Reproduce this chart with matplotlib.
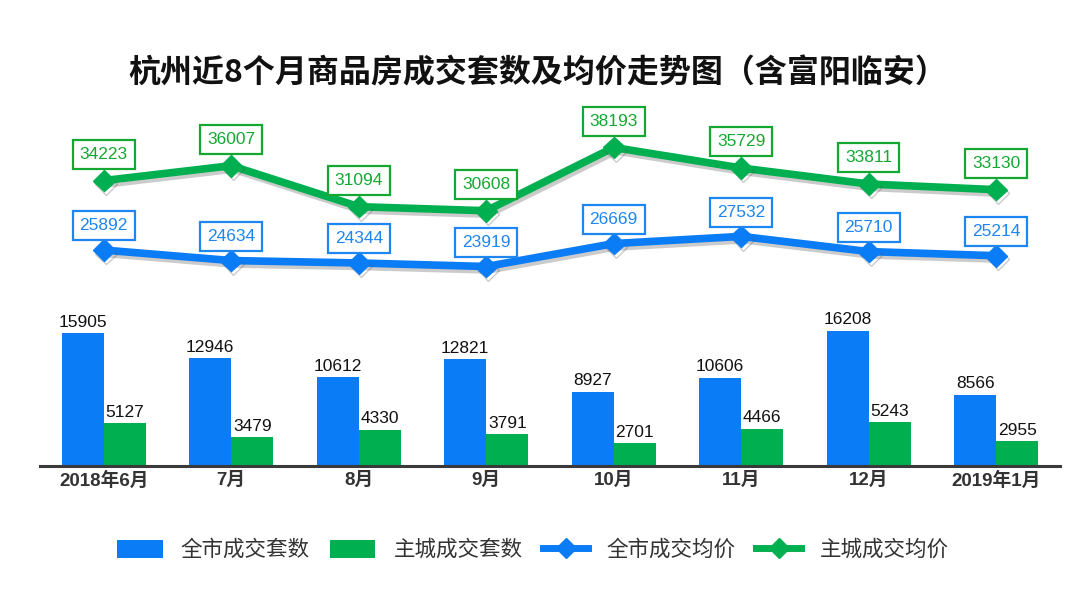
import matplotlib
matplotlib.use("Agg")
import matplotlib.pyplot as plt
import matplotlib.patheffects as pe
from matplotlib.patches import Patch
from matplotlib.lines import Line2D
import numpy as np

plt.rcParams['font.family'] = ['Liberation Sans', 'Noto Sans CJK SC', 'DejaVu Sans']

months = ["2018年6月", "7月", "8月", "9月", "10月", "11月", "12月", "2019年1月"]
city_units = [15905, 12946, 10612, 12821, 8927, 10606, 16208, 8566]
main_units = [5127, 3479, 4330, 3791, 2701, 4466, 5243, 2955]
city_price = [25892, 24634, 24344, 23919, 26669, 27532, 25710, 25214]
main_price = [34223, 36007, 31094, 30608, 38193, 35729, 33811, 33130]

title = "杭州近8个月商品房成交套数及均价走势图（含富阳临安）"
legend_labels = ["全市成交套数", "主城成交套数", "全市成交均价", "主城成交均价"]

BLUE = "#0A7CF6"
GREEN = "#00B050"
BLUE_TXT = "#1E86F0"
GREEN_TXT = "#14A832"

W, H = 1080, 602
fig = plt.figure(figsize=(W / 100, H / 100), dpi=100)
fig.patch.set_facecolor("white")

base_y = 466
top_y = 100
ax = fig.add_axes([40 / W, (H - base_y) / H, 1020 / W, (base_y - top_y) / H])
px_per_unit = 0.00834
ax.set_ylim(0, (base_y - top_y) / px_per_unit)
ax.set_xlim(-0.5, len(months) - 0.5)

x = np.arange(len(months))
bw = 0.33
b1 = ax.bar(x - bw / 2, city_units, width=bw, color=BLUE, zorder=2)
b2 = ax.bar(x + bw / 2, main_units, width=bw, color=GREEN, zorder=2)

for rects, vals in ((b1, city_units), (b2, main_units)):
    for r, v in zip(rects, vals):
        ax.annotate(f"{v}", (r.get_x() + r.get_width() / 2, v), xytext=(0, 2.5),
                    textcoords="offset points", ha="center", va="bottom",
                    fontsize=12.5, color="#111111")

shadow = [pe.SimpleLineShadow(offset=(1.5, -2.5), shadow_color="#555555", alpha=0.3), pe.Normal()]
ax.plot(x, main_price, color=GREEN, lw=5.5, marker="D", markersize=11,
        zorder=4, path_effects=shadow, solid_capstyle="round")
ax.plot(x, city_price, color=BLUE, lw=5.5, marker="D", markersize=11,
        zorder=4, path_effects=shadow, solid_capstyle="round")

for xi, v in zip(x, main_price):
    ax.annotate(f"{v}", (xi, v), xytext=(0, 19), textcoords="offset points",
                ha="center", va="center", fontsize=12.5, color=GREEN_TXT, zorder=6,
                bbox=dict(boxstyle="square,pad=0.4", fc="white", ec=GREEN_TXT, lw=1.6))
for xi, v in zip(x, city_price):
    ax.annotate(f"{v}", (xi, v), xytext=(0, 17.5), textcoords="offset points",
                ha="center", va="center", fontsize=12.5, color=BLUE_TXT, zorder=6,
                bbox=dict(boxstyle="square,pad=0.4", fc="white", ec=BLUE_TXT, lw=1.6))

for s in ("top", "right", "left"):
    ax.spines[s].set_visible(False)
ax.spines["bottom"].set_color("#3a3a3a")
ax.spines["bottom"].set_linewidth(2.2)
ax.spines["bottom"].set_zorder(5)
ax.set_yticks([])
ax.set_xticks(x)
ax.set_xticklabels(months, fontsize=13.5, fontweight="bold", color="#333333")
ax.tick_params(axis="x", length=0, pad=4)
ax.set_facecolor("none")

fig.text(538 / W, 1 - 73 / H, title, ha="center", va="center", fontsize=23,
         fontweight="bold", color="#111111",
         family=["Noto Sans CJK SC", "DejaVu Sans"])

handles = [
    Patch(facecolor=BLUE, edgecolor="none"),
    Patch(facecolor=GREEN, edgecolor="none"),
    Line2D([0], [0], color=BLUE, lw=5, marker="D", markersize=10),
    Line2D([0], [0], color=GREEN, lw=5, marker="D", markersize=10),
]
leg = fig.legend(handles, legend_labels, loc="center", bbox_to_anchor=(533 / W, 1 - 550 / H),
                 ncol=4, frameon=False, handlelength=2.1, handleheight=0.9,
                 handletextpad=0.85, columnspacing=0.95,
                 prop=dict(family=["Noto Sans CJK SC"], size=15.5))
for t in leg.get_texts():
    t.set_color("#333333")

fig.savefig("out.png", dpi=100, facecolor="white")
